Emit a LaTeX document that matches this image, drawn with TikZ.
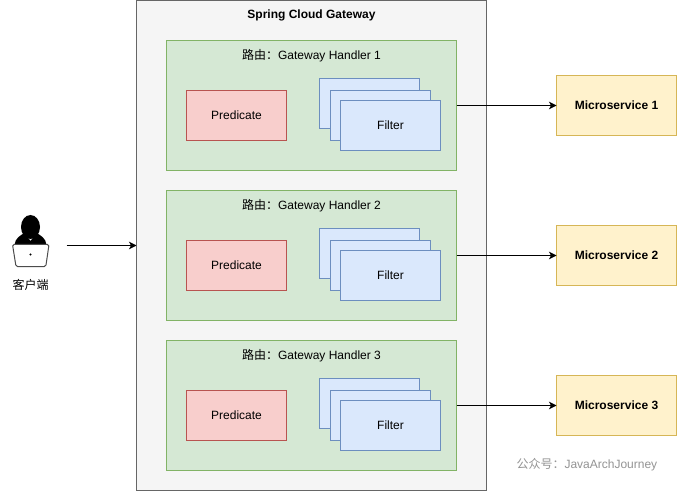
\documentclass[tikz,border=0pt]{standalone}
\usepackage{fontspec}
\setmainfont{Liberation Sans}
\newfontfamily\cjk{Noto Sans CJK SC}
\usetikzlibrary{arrows.meta}
\definecolor{gwfill}{HTML}{F5F5F5}\definecolor{gwline}{HTML}{666666}
\definecolor{grfill}{HTML}{D5E8D4}\definecolor{grline}{HTML}{82B366}
\definecolor{refill}{HTML}{F8CECC}\definecolor{reline}{HTML}{B85450}
\definecolor{blfill}{HTML}{DAE8FC}\definecolor{blline}{HTML}{6C8EBF}
\definecolor{yefill}{HTML}{FFF2CC}\definecolor{yeline}{HTML}{D6B656}
\newcommand{\txt}{\fontsize{12bp}{14bp}\selectfont}
\tikzset{
 box/.style={draw,line width=1bp,minimum width=#1,inner sep=0pt,outer sep=0pt,anchor=north west,font=\txt,text=black},
 gateway/.style={box=350bp,minimum height=490bp,fill=gwfill,draw=gwline},
 handler/.style={box=290bp,minimum height=130bp,fill=grfill,draw=grline},
 predicate/.style={box=100bp,minimum height=50bp,fill=refill,draw=reline},
 filterbox/.style={box=100bp,minimum height=50bp,fill=blfill,draw=blline},
 micro/.style={box=120bp,minimum height=60bp,fill=yefill,draw=yeline,font=\txt\bfseries},
 label/.style={inner sep=0pt,outer sep=0pt,font=\txt,text=black},
 conn/.style={draw=black,line width=1bp,-{Stealth[length=7.5bp,width=7.5bp,inset=2bp]}}
}
\begin{document}
\begin{tikzpicture}[x=1bp,y=-1bp]
\useasboundingbox (0,0) rectangle (677,491);
\fill[white] (0,0) rectangle (677,491);
\node[gateway] (gw) at (136.5,0.5) {};
\node[label,font=\txt\bfseries] (gwt) at (311.5,15.5) {Spring Cloud Gateway};
\foreach \n/\y in {1/40.5,2/190.5,3/340.5}{
 \node[handler] (h\n) at (166.5,\y) {};
 \node[label] (ht\n) at (311.5,\y+15) {{\cjk 路由：}Gateway Handler \n};
 \node[predicate] (p\n) at (186.5,\y+50) {Predicate};
 \node[filterbox] (fa\n) at (319.5,\y+38) {};
 \node[filterbox] (fb\n) at (330.5,\y+50) {};
 \node[filterbox] (f\n) at (340.5,\y+60) {Filter};
 \node[micro] (m\n) at (556.5,\y+35) {Microservice \n};
 \draw[conn] (h\n.east|-m\n.west) -- (m\n.west);
}
% client icon
\fill[black] (30.5,227) ellipse (9.5 and 12);
\fill[black] (14.5,245) .. controls (15,238) and (21,235) .. (24.5,233) -- (30.5,241) -- (36.5,233) .. controls (40,235) and (46,238) .. (46.5,245) -- cycle;
\fill[white,draw=black!70,line width=1bp,rounded corners=1.5bp] (12.5,244.5) -- (49,244.5) -- (45.8,266.5) -- (16,266.5) -- cycle;
\fill[black] (30.5,254.5) circle (1.2);
\node[label] (client) at (30.5,285) {\cjk 客户端};
\coordinate (cs) at (66.5,245.5);
\draw[conn] (cs) -- (gw.west|-cs);
\node[label,text=black!42,anchor=west] (wm) at (516.5,464.5) {{\cjk 公众号：}JavaArchJourney};
\end{tikzpicture}
\end{document}
